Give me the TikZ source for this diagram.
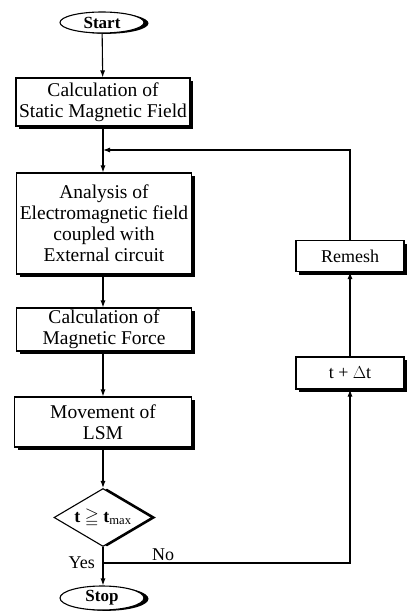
\documentclass[tikz,border=0pt]{standalone}
\usepackage{amssymb}
\usepackage{fontspec}
\setmainfont{Liberation Serif}
\usetikzlibrary{shapes.geometric,shadows,arrows.meta}
\tikzset{
  boxshadow/.style={drop shadow={shadow xshift=3pt,shadow yshift=-3pt,fill=black,opacity=1}},
  procbox/.style={draw,line width=1.1pt,fill=white,rectangle,inner sep=0pt,align=center,
     font=\fontsize{19.5}{21}\selectfont,boxshadow},
  sidebox/.style={procbox,font=\fontsize{18}{20}\selectfont},
  termnode/.style={draw,line width=1.1pt,fill=white,ellipse,inner sep=0pt,
     font=\fontsize{17}{19}\selectfont\bfseries,
     drop shadow={shadow xshift=4.5pt,shadow yshift=-0.8pt,fill=black,opacity=1}},
  decnode/.style={draw,line width=1.1pt,fill=white,diamond,aspect=1.6,inner sep=0pt,
     font=\fontsize{18}{20}\selectfont\bfseries,
     drop shadow={shadow xshift=4pt,shadow yshift=0pt,fill=black,opacity=1}},
  flow/.style={line width=1.1pt,-{Latex[length=7pt,width=5pt]}},
  lbl/.style={font=\fontsize{18}{20}\selectfont,inner sep=0pt}
}
\begin{document}
\begin{tikzpicture}[x=1pt,y=-1pt]
\useasboundingbox (0,0) rectangle (408,611);
\fill[white] (0,0) rectangle (408,611);

\node[termnode,minimum width=84pt,minimum height=21pt] (start) at (102,22.5) {Start};
\node[procbox,minimum width=174pt,minimum height=48pt] (box1) at (103,102) {Calculation of\\Static Magnetic Field};
\node[procbox,minimum width=175pt,minimum height=101pt] (box2) at (104,223.5) {Analysis of\\Electromagnetic field\\coupled with\\External circuit};
\node[procbox,minimum width=175pt,minimum height=43pt] (box3) at (104,329.5) {Calculation of\\Magnetic Force};
\node[procbox,minimum width=177pt,minimum height=50pt] (box4) at (103,422) {Movement of\\LSM};
\node[decnode,minimum width=98pt,minimum height=58pt] (dec) at (103,517.5) {t $\geqq$ t$_{\mathrm{max}}$};
\node[termnode,minimum width=84pt,minimum height=24pt] (stop) at (102,598) {Stop};

\node[sidebox,minimum width=108pt,minimum height=31pt] (remesh) at (350,256) {Remesh};
\node[sidebox,minimum width=108pt,minimum height=32pt] (tdt) at (350,373) {t + $\Delta$t};

\coordinate (j) at (103,563);
\coordinate (jr) at (350,563);
\coordinate (fbr) at (350,150);
\coordinate (fb) at (103,150);

\draw[flow] (start) -- (box1);
\draw[flow] (box1.south -| fb) -- (box2.north -| fb);
\draw[flow] (box2.south -| fb) -- (box3.north -| fb);
\draw[flow] (box3.south -| fb) -- (box4.north -| fb);
\draw[flow] (box4.south -| fb) -- (dec.north);
\draw[flow] (dec.south) -- (j) -- (stop.north -| j);
\draw[flow] (j) -- (jr) -- (tdt.south);
\draw[flow] (tdt.north) -- (remesh.south);
\draw[flow] (remesh.north) -- (fbr) -- (fb);

\node[lbl,anchor=east] (yes) at (95,563) {Yes};
\node[lbl,anchor=south west] (no) at (152,561) {No};
\end{tikzpicture}
\end{document}
